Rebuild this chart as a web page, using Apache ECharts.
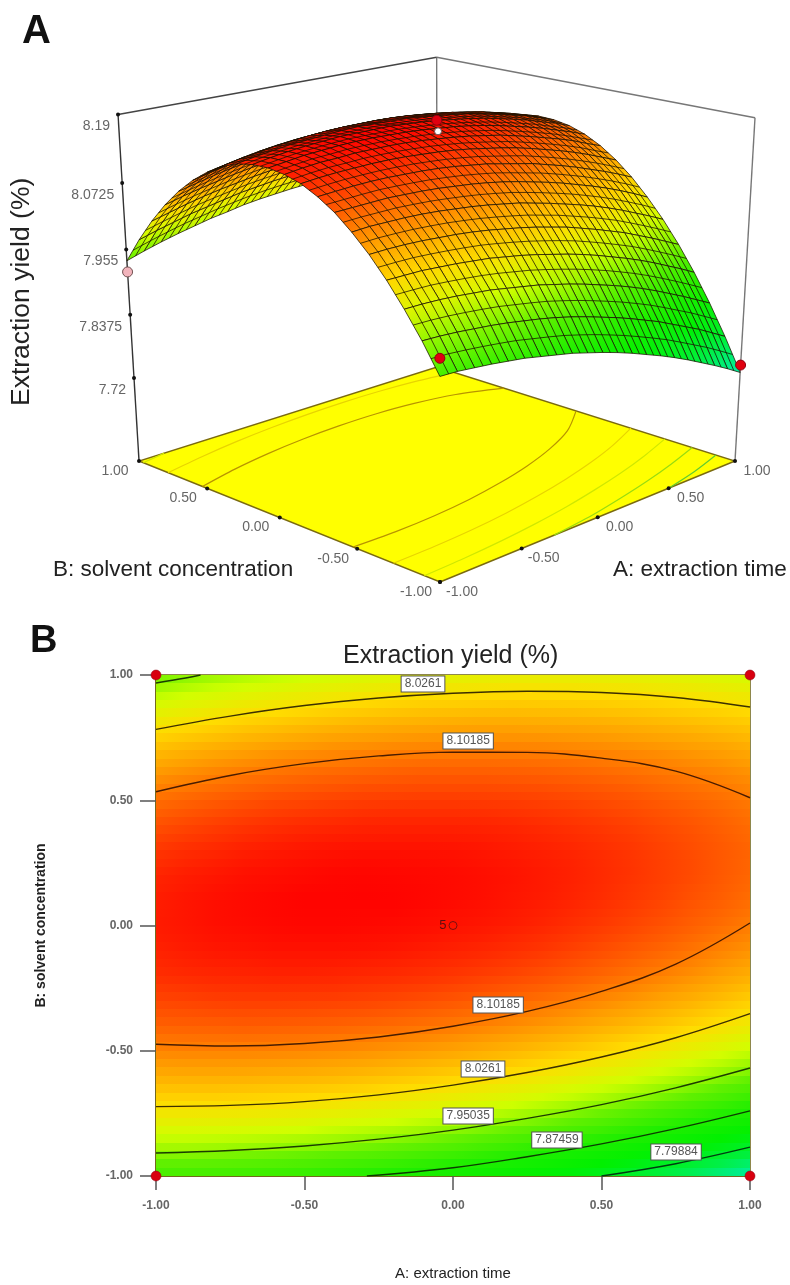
<!DOCTYPE html>
<html>
<head>
<meta charset="utf-8">
<style>html,body{margin:0;padding:0;background:#fff}#c{width:790px;height:1285px}</style>
<script src="https://cdn.jsdelivr.net/npm/echarts@6/dist/echarts.min.js"></script>
</head>
<body>
<div id="c"></div>
<script>
// ---------- values ----------
const factorA = [-1,-0.9,-0.8,-0.7,-0.6,-0.5,-0.4,-0.3,-0.2,-0.1,0,0.1,0.2,0.3,0.4,0.5,0.6,0.7,0.8,0.9,1];
const factorB = [-1,-0.9,-0.8,-0.7,-0.6,-0.5,-0.4,-0.3,-0.2,-0.1,0,0.1,0.2,0.3,0.4,0.5,0.6,0.7,0.8,0.9,1];
// one row per value of A, one entry per value of B (estimated from the contour positions)
const yieldTable = [
[7.906,7.954,7.996,8.034,8.067,8.095,8.119,8.137,8.151,8.159,8.163,8.162,8.157,8.146,8.130,8.110,8.085,8.055,8.020,7.980,7.935],
[7.905,7.953,7.996,8.034,8.068,8.097,8.120,8.139,8.154,8.163,8.167,8.167,8.162,8.152,8.136,8.117,8.092,8.063,8.028,7.989,7.945],
[7.902,7.951,7.995,8.034,8.068,8.097,8.121,8.141,8.156,8.166,8.171,8.171,8.166,8.156,8.142,8.123,8.099,8.070,8.036,7.997,7.954],
[7.899,7.948,7.993,8.032,8.067,8.097,8.122,8.142,8.157,8.167,8.173,8.174,8.170,8.161,8.147,8.128,8.105,8.076,8.043,8.005,7.962],
[7.895,7.945,7.990,8.030,8.065,8.096,8.121,8.142,8.158,8.169,8.175,8.176,8.172,8.164,8.151,8.133,8.110,8.082,8.049,8.011,7.969],
[7.891,7.941,7.987,8.027,8.063,8.094,8.120,8.141,8.158,8.169,8.176,8.178,8.174,8.167,8.154,8.136,8.114,8.087,8.054,8.017,7.976],
[7.885,7.936,7.982,8.024,8.060,8.091,8.118,8.140,8.157,8.169,8.176,8.178,8.176,8.169,8.156,8.139,8.117,8.091,8.059,8.023,7.981],
[7.879,7.931,7.977,8.019,8.056,8.088,8.115,8.138,8.155,8.168,8.175,8.178,8.177,8.170,8.158,8.142,8.120,8.094,8.063,8.027,7.987],
[7.873,7.925,7.972,8.014,8.051,8.084,8.112,8.135,8.153,8.166,8.174,8.178,8.176,8.170,8.159,8.143,8.122,8.097,8.066,8.031,7.991],
[7.865,7.918,7.965,8.008,8.046,8.079,8.108,8.131,8.150,8.163,8.172,8.176,8.175,8.170,8.159,8.144,8.124,8.099,8.069,8.034,7.994],
[7.857,7.910,7.958,8.001,8.040,8.074,8.103,8.127,8.146,8.160,8.169,8.174,8.174,8.169,8.159,8.144,8.124,8.100,8.071,8.036,7.997],
[7.848,7.901,7.950,7.994,8.033,8.067,8.097,8.121,8.141,8.156,8.166,8.171,8.171,8.167,8.158,8.143,8.124,8.100,8.072,8.038,7.999],
[7.838,7.892,7.941,7.986,8.026,8.060,8.090,8.115,8.136,8.151,8.162,8.167,8.168,8.164,8.156,8.142,8.123,8.100,8.072,8.039,8.001],
[7.827,7.882,7.932,7.977,8.017,8.052,8.083,8.109,8.130,8.146,8.157,8.163,8.164,8.161,8.153,8.140,8.122,8.099,8.071,8.039,8.001],
[7.816,7.871,7.922,7.967,8.008,8.044,8.075,8.101,8.123,8.139,8.151,8.158,8.160,8.157,8.149,8.137,8.119,8.097,8.070,8.038,8.001],
[7.804,7.860,7.911,7.957,7.998,8.035,8.066,8.093,8.115,8.132,8.144,8.152,8.154,8.152,8.145,8.133,8.116,8.094,8.068,8.036,8.000],
[7.791,7.847,7.899,7.946,7.988,8.025,8.057,8.084,8.107,8.124,8.137,8.145,8.148,8.147,8.140,8.129,8.112,8.091,8.065,8.034,7.999],
[7.777,7.834,7.886,7.934,7.976,8.014,8.047,8.074,8.098,8.116,8.129,8.138,8.141,8.140,8.134,8.123,8.107,8.087,8.061,8.031,7.996],
[7.763,7.821,7.873,7.921,7.964,8.002,8.036,8.064,8.088,8.107,8.120,8.129,8.134,8.133,8.128,8.117,8.102,8.082,8.057,8.027,7.993],
[7.748,7.806,7.859,7.908,7.951,7.990,8.024,8.053,8.077,8.096,8.111,8.121,8.125,8.125,8.120,8.111,8.096,8.077,8.052,8.023,7.989],
[7.732,7.791,7.845,7.894,7.938,7.977,8.011,8.041,8.066,8.086,8.101,8.111,8.116,8.117,8.112,8.103,8.089,8.070,8.046,8.018,7.984]
];
const contour8_10_upper = [[-1,.534],[-.75,.599],[-.5,.646],[-.25,.677],[0,.692],[.25,.691],[.5,.668],[.75,.616],[1,.510]];
const contour8_10_lower = [[-1,-.474],[-.75,-.481],[-.5,-.471],[-.25,-.445],[0,-.402],[.25,-.343],[.5,-.263],[.75,-.154],[1,.010]];
const contour8_03_upper = [[-1,.783],[-.75,.836],[-.5,.878],[-.25,.908],[0,.927],[.25,.935],[.5,.930],[.75,.910],[1,.872]];
const contour8_03_lower = [[-1,-.723],[-.75,-.718],[-.5,-.703],[-.25,-.676],[0,-.637],[.25,-.587],[.5,-.525],[.75,-.448],[1,-.352]];
const contour7_95_corner = [[-1,.968],[-.9,.988],[-.85,1]];
const contour7_95_lower = [[-1,-.908],[-.75,-.898],[-.5,-.880],[-.25,-.853],[0,-.817],[.25,-.770],[.5,-.715],[.75,-.648],[1,-.569]];
const contour7_87 = [[-.29,-1],[0,-.967],[.25,-.923],[.5,-.872],[.75,-.811],[1,-.74]];
const contour7_80 = [[.5,-1],[.75,-.951],[1,-.885]];
const contourLabels = [[-.101,.964,'8.0261'],[.051,.737,'8.10185'],[.152,-.317,'8.10185'],[.101,-.573,'8.0261'],[.051,-.76,'7.95035'],[.35,-.856,'7.87459'],[.751,-.904,'7.79884']];
const designCorners = [[-1,1],[1,1],[-1,-1],[1,-1]];
const designCentre = [[0,0,5]];
const axisTicksAB = [-1,-.5,0,.5,1];
const axisTicksZ = [8.19,8.0725,7.955,7.8375,7.72];
const surfacePoints = [[1,1,8.068,'#e00010'],[0,0,8.164,'#ffffff'],[-1,1,7.915,'#f2b4bc'],[-1,-1,7.935,'#e00010'],[1,-1,7.746,'#e00010']];
const rampColors = ['#00ecb0','#00f040','#00f000','#20ee00','#60f000','#d0ff00','#ffdc00','#ff9c00','#ff5000','#ff0000'];
const rampMin = 7.73, rampMax = 8.18;

// ---------- helpers ----------
const colorOf = z => echarts.color.lerp(Math.max(0,Math.min(1,(z-rampMin)/(rampMax-rampMin))), rampColors);
// perspective box of panel A, fitted to its four floor corners and wall heights
const Z_FLOOR = 7.562, Z_TOP = 8.19;
const persp = {x0:440,y0:582,g:.1487,h:.1386,a1:404.3,a2:-281.7,b1:-52.45,b2:-57.1,c1:-32.6,c2:-403,k:-.0736};
function project(a,b,z){
  const u=(a+1)/2, v=(b+1)/2, t=(z-Z_FLOOR)/(Z_TOP-Z_FLOOR), p=persp;
  const w=1+p.g*u+p.h*v+p.k*t;
  return [(p.x0+p.a1*u+p.a2*v+p.c1*t)/w,(p.y0+p.b1*u+p.b2*v+p.c2*t)/w];
}
const FONT='Liberation Sans';
const none={coordinateSystem:'none',silent:true,clip:false};
const mid=(p,q)=>[(p[0]+q[0])/2,(p[1]+q[1])/2];

// ---------- panel B data ----------
const heatRows=factorB.slice(0,20).map((b,j)=>[-1,1,b,factorB[j+1],j]);
const BANDS=3;
const contourSets=[
 [contour8_10_upper,'#4a1c00','#b89400'],[contour8_10_lower,'#4a1c00','#b89400'],
 [contour8_03_upper,'#3c3000','#e8d400'],[contour8_03_lower,'#3c3000','#e8d400'],
 [contour7_95_corner,'#1c3c00','#d0e800'],[contour7_95_lower,'#1c3c00','#d0e800'],
 [contour7_87,'#0c3c00','#98dc10'],[contour7_80,'#003c10','#60cc30']];

// ---------- panel A data ----------
const surfaceCells=[];
for(let i=0;i<20;i++)for(let j=0;j<20;j++)surfaceCells.push([i,j]);
surfaceCells.sort((p,q)=>(q[0]+q[1])-(p[0]+p[1]));
const frameSegments=[
 [-1,1,Z_FLOOR,-1,1,Z_TOP,'#333333'],[1,-1,Z_FLOOR,1,-1,Z_TOP,'#777777'],[1,1,Z_FLOOR,1,1,Z_TOP,'#777777'],
 [-1,1,Z_TOP,1,1,Z_TOP,'#444444'],[1,1,Z_TOP,1,-1,Z_TOP,'#777777']];

const heatSeries={type:'custom',xAxisIndex:0,yAxisIndex:0,silent:true,z:1,
 data:heatRows,encode:{x:[0,1],y:[2,3]},
 renderItem(params,api){
  const j=api.value(4),p0=api.coord([-1,factorB[j+1]]),p1=api.coord([1,factorB[j]]);
  const w=p1[0]-p0[0],h=(p1[1]-p0[1])/BANDS,kids=[];
  for(let s=0;s<BANDS;s++){
   const f=(BANDS-s-.5)/BANDS;
   const stops=factorA.map((a,i)=>({offset:i/(factorA.length-1),color:colorOf(yieldTable[i][j]*(1-f)+yieldTable[i][j+1]*f)}));
   const y0=Math.round(p0[1]+s*h),y1=Math.round(p0[1]+(s+1)*h);
   kids.push({type:'rect',shape:{x:p0[0],y:y0,width:w,height:y1-y0},
    style:{fill:new echarts.graphic.LinearGradient(0,0,1,0,stops)}});
  }
  return {type:'group',children:kids};
 }};
const lineSeries=contourSets.map(c=>({type:'line',xAxisIndex:0,yAxisIndex:0,data:c[0],smooth:.4,showSymbol:false,silent:true,z:3,
 lineStyle:{color:c[1],width:1.4}}));
const labelSeries={type:'scatter',xAxisIndex:0,yAxisIndex:0,silent:true,z:5,symbolSize:0,
 data:contourLabels,itemStyle:{opacity:1},
 label:{show:true,position:'inside',formatter:p=>p.data[2],fontFamily:FONT,fontSize:12,color:'#555',backgroundColor:'#fff',
  borderColor:'#555',borderWidth:1,padding:[2,3,1,3]}};
const cornerSeries={type:'scatter',xAxisIndex:0,yAxisIndex:0,silent:true,z:6,clip:false,symbol:'circle',symbolSize:10,
 data:designCorners,itemStyle:{opacity:1,color:'#d8000f',borderColor:'#8a0010',borderWidth:.5}};
const centreSeries={type:'scatter',xAxisIndex:0,yAxisIndex:0,silent:true,z:6,symbol:'circle',symbolSize:8,data:designCentre,
 itemStyle:{opacity:1,color:'rgba(0,0,0,0)',borderColor:'#7a1010',borderWidth:1},
 label:{show:true,position:'left',distance:2,formatter:p=>String(p.data[2]),color:'#5a1010',fontSize:13,fontFamily:FONT}};

const frameSeries=Object.assign({type:'custom',z:1,data:frameSegments.map((s,i)=>i),
 renderItem(params){
  const s=frameSegments[params.dataIndex],a=project(s[0],s[1],s[2]),b=project(s[3],s[4],s[5]);
  return {type:'line',shape:{x1:a[0],y1:a[1],x2:b[0],y2:b[1]},style:{stroke:s[6],lineWidth:1.4}};
 }},none);
const floorSeries=Object.assign({type:'custom',z:2,data:[0],
 renderItem(){
  return {type:'polygon',shape:{points:[project(-1,-1,Z_FLOOR),project(1,-1,Z_FLOOR),project(1,1,Z_FLOOR),project(-1,1,Z_FLOOR)]},
   style:{fill:'#ffff00',stroke:'#7a6a10',lineWidth:1.4}};
 }},none);
const floorContourSeries=Object.assign({type:'custom',z:3,data:contourSets.map((c,i)=>i),
 renderItem(params){
  const c=contourSets[params.dataIndex];
  return {type:'polyline',shape:{points:c[0].map(p=>project(p[0],p[1],Z_FLOOR)),smooth:.3},style:{stroke:c[2],fill:null,lineWidth:1.2}};
 }},none);
const MESH='#1a1000';
const surfaceSeries=Object.assign({type:'custom',z:4,data:surfaceCells,
 renderItem(params,api){
  const i=api.value(0),j=api.value(1),T=yieldTable,A=factorA,B=factorB;
  const p00=project(A[i],B[j],T[i][j]),p10=project(A[i+1],B[j],T[i+1][j]),p11=project(A[i+1],B[j+1],T[i+1][j+1]),p01=project(A[i],B[j+1],T[i][j+1]);
  const m0=mid(p00,p10),m1=mid(p01,p11),n0=mid(p00,p01),n1=mid(p10,p11);
  const fill=new echarts.graphic.LinearGradient(m0[0],m0[1],m1[0],m1[1],[
    {offset:0,color:colorOf((T[i][j]+T[i+1][j])/2)},{offset:1,color:colorOf((T[i][j+1]+T[i+1][j+1])/2)}],true);
  const line=(a,b)=>({type:'line',shape:{x1:a[0],y1:a[1],x2:b[0],y2:b[1]},style:{stroke:MESH,lineWidth:.75}});
  return {type:'group',children:[
   {type:'polygon',shape:{points:[p00,p10,p11,p01]},style:{fill:fill,stroke:MESH,lineWidth:.75}},
   line(m0,m1),line(n0,n1)]};
 }},none);
const dot=(p,r,fill)=>({type:'circle',shape:{cx:p[0],cy:p[1],r:r},style:{fill:fill}});
const txt=(x,y,text,align,font,fill)=>({type:'text',style:{x:x,y:y,text:text,align:align,verticalAlign:'middle',font:font,fill:fill}});
const tickFont='14px '+FONT;
const abTicksSeries=Object.assign({type:'custom',z:5,data:axisTicksAB,
 renderItem(params,api){
  const v=api.value(0),pa=project(v,-1,Z_FLOOR),pb=project(-1,v,Z_FLOOR),lab=v.toFixed(2);
  return {type:'group',children:[dot(pa,2,'#111'),dot(pb,2,'#111'),
   txt(pa[0]+22,pa[1]+10,lab,'center',tickFont,'#666'),txt(pb[0]-24,pb[1]+10,lab,'center',tickFont,'#666')]};
 }},none);
const zTicksSeries=Object.assign({type:'custom',z:5,data:axisTicksZ,
 renderItem(params,api){
  const v=api.value(0),p=project(-1,1,v);
  return {type:'group',children:[dot(p,2,'#111'),txt(p[0]-8,p[1]+12,String(v),'right',tickFont,'#666')]};
 }},none);
const pointSeries=Object.assign({type:'custom',z:6,data:surfacePoints.map((p,i)=>i),
 renderItem(params){
  const s=surfacePoints[params.dataIndex],p=project(s[0],s[1],s[2]);
  return {type:'circle',shape:{cx:p[0],cy:p[1],r:params.dataIndex===1?3.5:5},style:{fill:s[3],stroke:s[3]==='#e00010'?'#900010':'#705050',lineWidth:1}};
 }},none);

const gtext=(left,top,text,font,fill)=>({type:'text',left:left,top:top,silent:true,style:{text:text,font:font,fill:fill||'#222'}});
const axisStroke={show:true,onZero:false,lineStyle:{color:'#6a6010',width:1.5}};
const option={
 animation:false,backgroundColor:'#fff',
 grid:{left:156,top:675,width:594,height:501,show:true,borderColor:'#6a6010',borderWidth:1.5,backgroundColor:'transparent',outerBoundsMode:'none'},
 xAxis:{type:'value',min:-1,max:1,interval:.5,position:'bottom',name:'A: extraction time',nameLocation:'middle',nameGap:90,
  nameTextStyle:{fontFamily:FONT,fontSize:15,color:'#222'},
  axisLine:axisStroke,splitLine:{show:false},axisTick:{show:true,length:14,lineStyle:{color:'#555',width:1.5}},
  axisLabel:{margin:24,fontFamily:FONT,fontSize:12,fontWeight:'bold',color:'#666',formatter:v=>v.toFixed(2)}},
 yAxis:{type:'value',min:-1,max:1,interval:.5,name:'B: solvent concentration',nameLocation:'middle',nameGap:108,nameRotate:90,
  nameTextStyle:{fontFamily:FONT,fontSize:14,fontWeight:'bold',color:'#222'},
  axisLine:axisStroke,splitLine:{show:false},axisTick:{show:true,length:16,lineStyle:{color:'#555',width:1.5}},
  axisLabel:{margin:23,fontFamily:FONT,fontSize:12,fontWeight:'bold',color:'#666',formatter:v=>v.toFixed(2)}},
 graphic:[
  gtext(22,12,'A','bold 40px '+FONT,'#111'),
  gtext(30,623,'B','bold 38px '+FONT,'#111'),
  gtext(343,644,'Extraction yield (%)','25px '+FONT),
  gtext(53,558,'B: solvent concentration','22.5px '+FONT),
  gtext(613,558,'A: extraction time','22.5px '+FONT),
  {type:'text',silent:true,x:8,y:406,rotation:Math.PI/2,style:{text:'Extraction yield (%)',font:'26.5px '+FONT,fill:'#222'}}
 ],
 series:[heatSeries,...lineSeries,labelSeries,cornerSeries,centreSeries,frameSeries,floorSeries,floorContourSeries,surfaceSeries,abTicksSeries,zTicksSeries,pointSeries]
};
const chart=echarts.init(document.getElementById('c'));
chart.setOption(option);
</script>
</body>
</html>
